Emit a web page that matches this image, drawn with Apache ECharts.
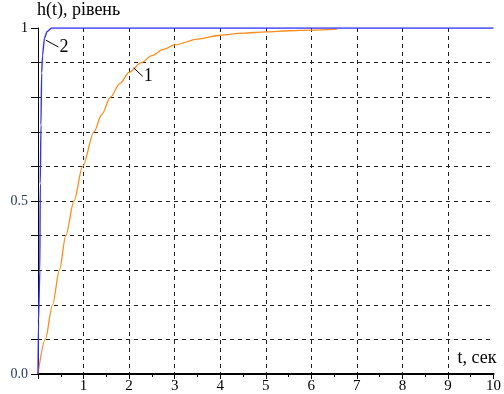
<!DOCTYPE html>
<html>
<head>
<meta charset="utf-8">
<script src="https://cdn.jsdelivr.net/npm/echarts@6/dist/echarts.min.js"></script>
<style>html,body{margin:0;padding:0;background:#fff}#c{width:504px;height:394px}</style>
</head>
<body>
<div id="c"></div>
<script>
// Curve 1 (orange): t, h(t)
const curve1T = [0, 0.16, 0.32, 0.47, 0.61, 0.79, 0.98, 1.23, 1.4, 1.59, 1.8, 2.0, 2.27, 2.5, 2.75, 3.0, 3.5, 4.0, 4.5, 5.0, 5.5, 6.0, 6.57];
const curve1H = [0, 0.1, 0.2, 0.3, 0.4, 0.5, 0.6, 0.7, 0.75, 0.8, 0.84, 0.872, 0.9, 0.92, 0.938, 0.951, 0.968, 0.979, 0.985, 0.989, 0.992, 0.994, 0.997];
// Curve 2 (blue): t, h(t)
const curve2T = [0, 0.01, 0.04, 0.05, 0.065, 0.08, 0.1, 0.14, 0.2, 0.3, 10];
const curve2H = [0, 0.15, 0.3, 0.55, 0.72, 0.87, 0.92, 0.97, 0.99, 1.0, 1.0];
const xTicks = [1,2,3,4,5,6,7,8,9,10];
const yLabels = {0: '0.0', 0.5: '0.5', 1: '1'};
const titleText = 'h(t), рівень';
const xName = 't, сек';
// annotation anchors (data coords): curve point and label
const ann1 = {from: [2.1, 0.885], to: [2.3, 0.86], text: '1'};
const ann2 = {from: [0.17, 0.965], to: [0.45, 0.945], text: '2'};

const FONT = '"Liberation Serif", "Times New Roman", "DejaVu Serif", serif';
const chart = echarts.init(document.getElementById('c'), null, {renderer: 'canvas'});
const zip = (a, b) => a.map((v, i) => [v, b[i]]);
const gridLine = {show: true, showMaxLine: false, lineStyle: {color: '#222', type: [4, 4], width: 1}};
chart.setOption({
  animation: false,
  grid: {left: 38, right: 4.5, top: 28, bottom: 19, containLabel: false},
  xAxis: [{
    type: 'value', min: 0, max: 10, interval: 1,
    axisLine: {show: true, onZero: false, lineStyle: {color: '#000', width: 1.5}},
    axisTick: {show: true, length: 5, inside: false, lineStyle: {color: '#000'}},
    minorTick: {show: true, splitNumber: 2, length: 3, lineStyle: {color: '#000'}},
    axisLabel: {show: true, margin: 5, fontFamily: FONT, fontSize: 15, color: '#000',
      formatter: v => (xTicks.indexOf(v) >= 0 ? String(v) : '')},
    splitLine: gridLine
  }, {
    type: 'value', min: 0, max: 10, position: 'top',
    axisLine: {show: true, lineStyle: {color: '#000', width: 2}},
    axisTick: {show: false}, axisLabel: {show: false}, splitLine: {show: false}
  }],
  yAxis: {
    type: 'value', min: 0, max: 1, interval: 0.1,
    axisLine: {show: true, onZero: false, lineStyle: {color: '#000', width: 1}},
    axisTick: {show: true, length: 7, inside: false, lineStyle: {color: '#000'}},
    axisLabel: {show: true, margin: 10, fontFamily: FONT, fontSize: 14,
      formatter: v => { const k = Math.round(v * 10) / 10; return yLabels[k] !== undefined ? yLabels[k] : ''; },
      color: v => (Math.round(v * 10) / 10 === 1 ? '#000' : '#2b3d5c')},
    splitLine: gridLine
  },
  series: [
    {type: 'line', data: zip(curve1T, curve1H), smooth: 0.3, smoothMonotone: 'x', symbol: 'none', lineStyle: {color: '#ff8c1a', width: 1.3}, z: 3},
    {type: 'line', data: zip(curve2T, curve2H), smooth: 0.2, smoothMonotone: 'x', symbol: 'none', lineStyle: {color: '#3333ff', width: 1.4}, z: 4}
  ]
});

function p(d) { return chart.convertToPixel({xAxisIndex: 0, yAxisIndex: 0}, d); }
const a1f = p(ann1.from), a1t = p(ann1.to), a2f = p(ann2.from), a2t = p(ann2.to);
const origin = p([0, 1]), xEnd = p([10, 0]);
const F17 = '18px ' + FONT;
chart.setOption({
  graphic: [
    {type: 'text', left: origin[0] - 1, top: 1, style: {text: titleText, font: F17, fill: '#000'}},
    {type: 'text', right: 504 - xEnd[0] - 3, top: xEnd[1] - 25, style: {text: xName, font: F17, fill: '#000'}},
    {type: 'line', shape: {x1: a1f[0], y1: a1f[1], x2: a1t[0], y2: a1t[1]}, style: {stroke: '#000', lineWidth: 1}, z: 10},
    {type: 'text', x: a1t[0] + 1, y: a1t[1] - 9, style: {text: ann1.text, font: F17, fill: '#000'}, z: 10},
    {type: 'line', shape: {x1: a2f[0], y1: a2f[1], x2: a2t[0], y2: a2t[1]}, style: {stroke: '#000', lineWidth: 1}, z: 10},
    {type: 'text', x: a2t[0] + 1, y: a2t[1] - 9, style: {text: ann2.text, font: F17, fill: '#000'}, z: 10}
  ]
});
</script>
</body>
</html>
